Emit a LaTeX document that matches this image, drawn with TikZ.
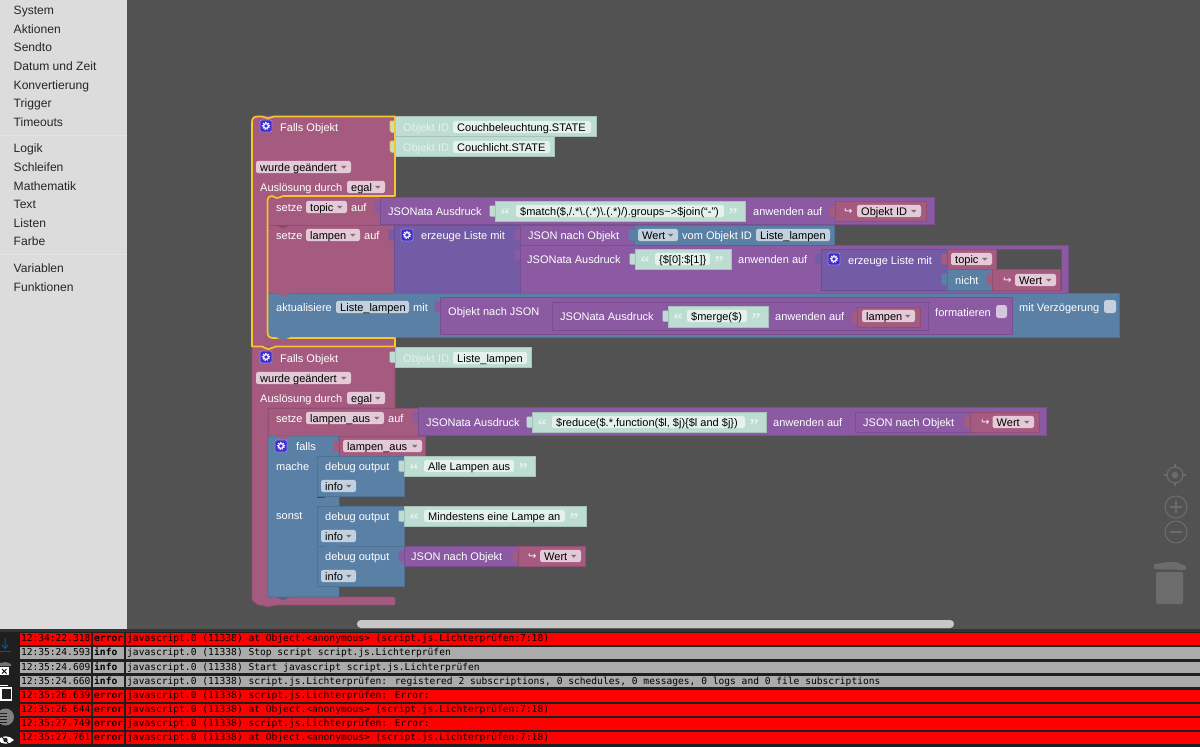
\documentclass[tikz,border=0pt]{standalone}
\usepackage{fontspec}
\setmainfont{Liberation Sans}
\newfontfamily\djv{DejaVu Sans}
\newfontfamily\lgm{DejaVu Sans Mono}
\newfontfamily\qfont{Liberation Serif}
\definecolor{canvas}{HTML}{525252}
\definecolor{side}{HTML}{DCDCDC}
\definecolor{rosec}{HTML}{A55B80}
\definecolor{purpc}{HTML}{8B5AA3}
\definecolor{listc}{HTML}{745BA5}
\definecolor{bluec}{HTML}{5B80A5}
\definecolor{mintc}{HTML}{BEDDD2}
\definecolor{mintf}{HTML}{E4F1EC}
\definecolor{rosef}{HTML}{E4C9D7}
\definecolor{bluef}{HTML}{C3D0DE}
\definecolor{yel}{HTML}{F7C52E}
\definecolor{ctl}{HTML}{6C6C6C}
\definecolor{grayrow}{HTML}{ABABAB}
\definecolor{iconc}{HTML}{402CD0}
\definecolor{iconb}{HTML}{9488DC}
\newcounter{nn}
\tikzset{
  lbl/.style={anchor=mid west,inner sep=0pt,yshift=-1.4pt,text=white,font=\fontsize{11}{13}\selectfont},
  blk/.style={line width=.7pt},
  sideitem/.style={anchor=mid west,inner sep=0pt,yshift=-1.4pt,text=black!85,font=\fontsize{12.1}{14}\selectfont},
  logtxt/.style={anchor=mid west,inner sep=0pt,text=black,font=\lgm\fontsize{9.6}{11}\selectfont},
}
% colour, x1,y1,x2,y2
\newcommand\blk[5]{\filldraw[blk,fill=#1,draw=#1!88!black] (#2,#3) rectangle (#4,#5);}
% colour, x, ytop : left value tab
\newcommand\tabl[3]{\fill[#1,rounded corners=1.2pt] ({#2+1},{#3+4.5}) -- ({#2-5.5},{#3+4.5}) -- ({#2-5.5},{#3+15.5}) -- ({#2+1},{#3+15.5}) -- cycle;}
% colour, x, y : statement bump below an edge
\newcommand\bump[3]{\fill[#1] (#2,#3) .. controls ({#2+3},{#3+.2}) and ({#2+3},{#3+3}) .. ({#2+7},{#3+3}) .. controls ({#2+11},{#3+3}) and ({#2+11},{#3+.2}) .. ({#2+14},#3) -- cycle;}
\newcommand\tx[3]{\stepcounter{nn}\node[lbl] (t\arabic{nn}) at (#1,#2) {#3};}
% fill, x1, x2, yc, text
\newcommand\dd[5]{\stepcounter{nn}\fill[#1,rounded corners=2.5pt] (#2,{#4-6.2}) rectangle (#3,{#4+6.2});
  \node[lbl,text=black] (t\arabic{nn}) at ({#2+4},#4) {#5};
  \fill[#1!55!black] ({#3-10},{#4-1.2}) -- ({#3-4.5},{#4-1.2}) -- ({#3-7.25},{#4+1.6}) -- cycle;}
% fill, x1, x2, yc, text  (no arrow)
\newcommand\fld[5]{\stepcounter{nn}\fill[#1,rounded corners=2.5pt] (#2,{#4-6.2}) rectangle (#3,{#4+6.2});
  \node[lbl,text=black] (t\arabic{nn}) at ({#2+4},#4) {#5};}
\newcommand\icon[2]{\filldraw[fill=iconc,draw=iconb,line width=.7pt,rounded corners=2pt] ({#1-6},{#2-6}) rectangle ({#1+6},{#2+6});
  \draw[white,line width=1.2pt] (#1,#2) circle (2.4pt);
  \draw[white,line width=1pt,dash pattern=on 1.2pt off 1.3pt] (#1,#2) circle (3.6pt);}
\newcommand\qo[2]{\stepcounter{nn}\node[lbl,text=mintf,font=\qfont\bfseries\fontsize{18}{18}\selectfont] (t\arabic{nn}) at ({#1+1.5},{#2+5}) {“};}
\newcommand\qc[2]{\stepcounter{nn}\node[lbl,text=mintf,font=\qfont\bfseries\fontsize{18}{18}\selectfont] (t\arabic{nn}) at ({#1+1.5},{#2+5}) {”};}
\newcommand\arr[2]{\stepcounter{nn}\node[lbl,font=\djv\fontsize{10}{12}\selectfont] (t\arabic{nn}) at (#1,#2) {↪};}
\newcommand\sitem[2]{\stepcounter{nn}\node[sideitem] (t\arabic{nn}) at (13.5,#1) {#2};}
% y, bg, time, level, msg
\newcommand\logrow[5]{\stepcounter{nn}
  \fill[#2] (20,#1) rectangle (91,{#1+11.8});
  \fill[#2] (93,#1) rectangle (124,{#1+11.8});
  \fill[#2] (126,#1) rectangle (1200,{#1+11.8});
  \node[logtxt] (a\arabic{nn}) at (20.8,{#1+5.9}) {#3};
  \node[logtxt,font=\lgm\bfseries\fontsize{9.6}{11}\selectfont] (b\arabic{nn}) at (94,{#1+5.9}) {#4};
  \node[logtxt] (c\arabic{nn}) at (127,{#1+5.9}) {#5};}
\begin{document}
\begin{tikzpicture}[x=1pt,y=-1pt]
\useasboundingbox (0,0) rectangle (1200,747);
\clip (0,0) rectangle (1200,747);
\fill[canvas] (0,0) rectangle (1200,747);
% sidebar
\fill[side] (0,0) rectangle (127,629);
\fill[white!25!side] (0,135) rectangle (127,136);
\fill[white!25!side] (0,254) rectangle (127,255);
\sitem{10.5}{System}\sitem{29}{Aktionen}\sitem{47.5}{Sendto}\sitem{66}{Datum und Zeit}
\sitem{85}{Konvertierung}\sitem{103.5}{Trigger}\sitem{122}{Timeouts}
\sitem{148.5}{Logik}\sitem{167}{Schleifen}\sitem{186}{Mathematik}\sitem{204.5}{Text}
\sitem{223}{Listen}\sitem{241.5}{Farbe}\sitem{268}{Variablen}\sitem{287}{Funktionen}
% workspace controls
\begin{scope}[ctl,line width=1.1pt]
\draw (1175,475) circle (8pt); \fill (1175,475) circle (3.2pt);
\draw (1175,464) -- (1175,467) (1175,483) -- (1175,486) (1164,475) -- (1167,475) (1183,475) -- (1186,475);
\draw (1176,507) circle (11pt); \draw (1176,501) -- (1176,513) (1170,507) -- (1182,507);
\draw (1176,532) circle (11pt); \draw (1170,532) -- (1182,532);
\fill[rounded corners=1pt] (1154,564) -- (1163,563) -- (1167,562) -- (1176,562) -- (1186,566) -- (1186,570) -- (1154,569) -- cycle;
\fill[rounded corners=2pt] (1156,572) rectangle (1183,604);
\end{scope}
\fill[black!22!white,rounded corners=3.8pt] (357,620) rectangle (954,628);

% ===== first trigger =====
\blk{mintc}{395}{116.5}{596}{136.5}
\blk{mintc}{395}{136.5}{554}{156.5}
\filldraw[blk,fill=rosec,draw=rosec!88!black] (252,120) -- (256,116) -- (395,116) -- (395,196) -- (267,196) -- (267,338) -- (395,338) -- (395,347) -- (252,347) -- cycle;
\icon{266}{126}
\tx{280}{127}{Falls Objekt}
\tabl{yel}{395}{116}\tabl{yel}{395}{136}
\tabl{mintc}{396}{117}\tabl{mintc}{396}{137}
\tx{403}{127}{\color{mintf}Objekt ID}
\tx{403}{147}{\color{mintf}Objekt ID}
\fld{mintf}{453}{591}{127}{Couchbeleuchtung.STATE}
\fld{mintf}{453}{550}{147}{Couchlicht.STATE}
\dd{rosef}{256}{351}{167}{wurde geändert}
\tx{260}{187}{Auslösung durch}
\dd{rosef}{347}{385}{187}{egal}

% setze topic
\blk{rosec}{267}{196}{381}{225}
\tx{276}{207}{setze}
\dd{rosef}{306}{347}{207}{topic}
\tx{351}{207}{auf}
\tabl{purpc}{380}{197}
\blk{purpc}{380}{197}{934}{224.5}
\tx{388}{211}{JSONata Ausdruck}
\tabl{mintc}{495}{201}
\blk{mintc}{495}{201}{745}{221}
\qo{499}{211}
\fld{mintf}{516}{724}{211}{\$match(\$,/.*\textbackslash.(.*)\textbackslash.(.*)/).groups\textasciitilde>\$join(“-”)}
\qc{727}{211}
\tx{753}{211}{anwenden auf}
\tabl{rosec}{835}{201}
\blk{rosec}{835}{201}{926}{221}
\arr{844}{210}
\dd{rosef}{857}{921}{211}{Objekt ID}

% setze lampen
\blk{rosec}{267}{225}{394}{293}
\bump{rosec!82!black}{276}{225}
\tx{276}{235}{setze}
\dd{rosef}{306}{360}{235}{lampen}
\tx{364}{235}{auf}
\tabl{listc}{394}{225}
\blk{listc}{394}{225}{520}{293}
\icon{407}{235}
\tx{421}{235}{erzeuge Liste mit}
\tabl{purpc}{520}{225}
\blk{purpc}{520}{225}{634}{245}
\tx{528}{235}{JSON nach Objekt}
\blk{bluec}{634}{225}{834}{245}
\tabl{bluec}{634}{225}
\dd{bluef}{638}{678}{235}{Wert}
\tx{682}{235}{vom Objekt ID}
\fld{bluef}{756}{830}{235}{Liste\_lampen}
\tabl{purpc}{520}{245}
\blk{purpc}{520}{245}{1068}{293}
\tx{527}{259}{JSONata Ausdruck}
\tabl{mintc}{635}{249}
\blk{mintc}{635}{249}{731}{269.5}
\qo{639}{259}
\fld{mintf}{655}{710}{259}{\{\$[0]:\$[1]\}}
\qc{713}{259}
\tx{738}{259}{anwenden auf}
\tabl{listc}{821}{249}
\blk{listc}{821}{249}{947}{290}
\icon{834}{259}
\tx{848}{260}{erzeuge Liste mit}
\fill[canvas] (996,249) rectangle (1061,269);
\draw[purpc!82!black,line width=.7pt] (996,249) -- (1061,249) -- (1061,290);
\tabl{rosec}{947}{249}
\blk{rosec}{947}{249}{996}{269}
\dd{rosef}{951}{992}{259}{topic}
\tabl{bluec}{947}{269}
\blk{bluec}{947}{269}{992}{290}
\tx{955}{280}{nicht}
\tabl{rosec}{992}{269}
\blk{rosec}{992}{269}{1060}{290}
\arr{1003}{279}
\dd{rosef}{1015}{1056}{280}{Wert}

% aktualisiere
\blk{bluec}{267}{293}{1119}{337}
\bump{rosec}{276}{293}
\tx{276}{307}{aktualisiere}
\fld{bluef}{336}{409}{307}{Liste\_lampen}
\tx{413}{307}{mit}
\tabl{purpc}{440}{297}
\blk{purpc}{440}{297}{1012}{334}
\tx{448}{311}{Objekt nach JSON}
\tabl{purpc}{552}{302}
\blk{purpc}{552}{302}{928}{330}
\tx{560}{316}{JSONata Ausdruck}
\tabl{mintc}{668}{306}
\blk{mintc}{668}{306}{768}{327}
\qo{672}{316}
\fld{mintf}{687}{747}{316}{\$merge(\$)}
\qc{750}{316}
\tx{775}{316}{anwenden auf}
\tabl{rosec}{857}{307}
\blk{rosec}{857}{307}{920}{327}
\dd{rosef}{862}{915}{316}{lampen}
\tx{935}{312}{formatieren}
\fill[white!65!purpc,rounded corners=2.5pt] (996,305) rectangle (1007,318);
\tx{1019}{307}{mit Verzögerung}
\fill[bluef,rounded corners=2.5pt] (1104,300) rectangle (1116,313);

% ===== second trigger =====
\filldraw[blk,fill=rosec,draw=rosec!88!black,rounded corners=1pt] (252,347) -- (395,347) -- (395,408) -- (268,408) -- (268,597) -- (395,597) -- (395,605) -- (275,605) -- (268,607) -- (261,605) -- (258,605) -- (252,600) -- cycle;
\icon{266}{357}
\tx{280}{358}{Falls Objekt}
\tabl{mintc}{395}{347}
\blk{mintc}{395}{347.5}{531}{367}
\tx{403}{358}{\color{mintf}Objekt ID}
\fld{mintf}{453}{527}{358}{Liste\_lampen}
\dd{rosef}{256}{351}{378}{wurde geändert}
\tx{260}{398}{Auslösung durch}
\dd{rosef}{347}{385}{398}{egal}
% setze lampen_aus
\blk{rosec}{268}{408}{418}{436}
\tx{276}{418}{setze}
\dd{rosef}{306}{384}{418}{lampen\_aus}
\tx{388}{418}{auf}
\tabl{purpc}{418}{407}
\blk{purpc}{418}{407.5}{1046}{435.5}
\tx{426}{422}{JSONata Ausdruck}
\tabl{mintc}{532}{412}
\blk{mintc}{532}{412}{766}{432}
\qo{536}{422}
\fld{mintf}{552}{745}{422}{\$reduce(\$.*,function(\$l, \$j)\{\$l and \$j\})}
\qc{748}{422}
\tx{773}{422}{anwenden auf}
\tabl{purpc}{855}{412}
\blk{purpc}{855}{412}{970}{432}
\tx{863}{422}{JSON nach Objekt}
\tabl{rosec}{970}{412}
\blk{rosec}{970}{412}{1039}{432}
\arr{981}{421}
\dd{rosef}{992.5}{1034}{422}{Wert}
% falls
\filldraw[blk,fill=bluec,draw=bluec!88!black,rounded corners=2pt] (268,436) -- (339,436) -- (339,597) -- (268,597) -- cycle;
\bump{rosec}{276}{436}
\icon{281}{446}
\tx{296}{446}{falls}
\tabl{rosec}{339}{436}
\blk{rosec}{339}{436}{425}{456}
\dd{rosef}{343}{422}{446}{lampen\_aus}
\tx{276}{466}{mache}
\tx{276}{515}{sonst}
\bump{bluec!82!black}{276}{597}
% debug 1
\fill[canvas!85!black] (317,488) rectangle (339,497.5);
\fill[bluec] (325,497) rectangle (339,506);
\blk{bluec}{317}{456}{404}{496}
\tx{325}{466}{debug output}
\dd{bluef}{321}{356}{486}{info}
\tabl{mintc}{404}{456}
\blk{mintc}{404}{456}{535}{476}
\qo{408}{466}
\fld{mintf}{424}{514}{466}{Alle Lampen aus}
\qc{517}{466}
% debug 2
\blk{bluec}{317}{506}{404}{546}
\tx{325}{516}{debug output}
\dd{bluef}{321}{356}{536}{info}
\tabl{mintc}{404}{506}
\blk{mintc}{404}{506}{586}{526}
\qo{408}{516}
\fld{mintf}{424}{565}{516}{Mindestens eine Lampe an}
\qc{568}{516}
% debug 3
\blk{bluec}{317}{546}{404}{586}
\bump{bluec}{325}{546}
\tx{325}{556}{debug output}
\dd{bluef}{321}{356}{576}{info}
\tabl{purpc}{404}{546}
\blk{purpc}{404}{546}{518}{566}
\tx{411}{556}{JSON nach Objekt}
\tabl{rosec}{518}{546}
\blk{rosec}{518}{546}{585}{566}
\arr{528}{555}
\dd{rosef}{540}{581}{556}{Wert}

% selection outline of first trigger
\draw[yel,line width=1.7pt,line join=round] (252,122) .. controls (252,118) and (254,116.5) .. (258,116.5) -- (262,116.5) .. controls (265,116.5) and (266,118.5) .. (268,118.5) .. controls (270,118.5) and (271,116.5) .. (274,116.5) -- (395,116.5) -- (395,196) -- (283,196) .. controls (281,196) and (280,198) .. (277,198) .. controls (275,198) and (274,196) .. (272,196) .. controls (269,196) and (267.5,197) .. (267.5,200) -- (267.5,333) .. controls (267.5,336) and (269,338) .. (272,338) -- (395,338) -- (395,346.5) -- (276,346.5) .. controls (273,346.5) and (272,349) .. (268,349) .. controls (265,349) and (264,346.5) .. (262,346.5) -- (252,346.5) -- cycle;
\bump{bluec}{276}{337}

% ===== log =====
\fill[black!88] (0,629) rectangle (1200,747);
\fill[black!80] (0,629) rectangle (1200,632);
\logrow{633.3}{red}{12:34:22.318}{error}{javascript.0 (11338) at Object.<anonymous> (script.js.Lichterprüfen:7:18)}
\logrow{647.4}{grayrow}{12:35:24.593}{info}{javascript.0 (11338) Stop script script.js.Lichterprüfen}
\logrow{661.5}{grayrow}{12:35:24.609}{info}{javascript.0 (11338) Start javascript script.js.Lichterprüfen}
\logrow{675.6}{grayrow}{12:35:24.660}{info}{javascript.0 (11338) script.js.Lichterprüfen: registered 2 subscriptions, 0 schedules, 0 messages, 0 logs and 0 file subscriptions}
\logrow{689.7}{red}{12:35:26.639}{error}{javascript.0 (11338) script.js.Lichterprüfen: Error:}
\logrow{703.8}{red}{12:35:26.644}{error}{javascript.0 (11338) at Object.<anonymous> (script.js.Lichterprüfen:7:18)}
\logrow{717.9}{red}{12:35:27.749}{error}{javascript.0 (11338) script.js.Lichterprüfen: Error:}
\logrow{732}{red}{12:35:27.761}{error}{javascript.0 (11338) at Object.<anonymous> (script.js.Lichterprüfen:7:18)}
% log tool icons
\draw[blue!35!cyan!55!black,line width=1pt] (5,638) -- (5,648) (2,645) -- (5,648.5) -- (8,645);
\draw[blue!35!cyan!55!black,line width=1pt] (0,651) -- (11,651);
\fill[black!55] (0,663) -- (6,662) -- (11,664) -- (11,666) -- (0,666) -- cycle;
\fill[white] (0,667) rectangle (9,675);
\draw[black,line width=1pt] (2,669) -- (6.5,673.5) (6.5,669) -- (2,673.5);
\draw[white,line width=.8pt] (0,685.5) -- (8,685.5);
\draw[white,line width=1.1pt] (1,688) rectangle (11.5,700);
\fill[black!50] (5.5,717) circle (8.5pt);
\draw[black!88,line width=.8pt] (-1,713) -- (7,713) (-1,716) -- (7,716) (-1,719) -- (7,719) (-1,722) -- (7,722);
\fill[white] (-2,740) .. controls (2,735) and (9,735) .. (14,740) .. controls (9,745) and (2,745) .. (-2,740) -- cycle;
\fill[black!88] (5.5,740) circle (2.2pt);
\draw[black!88,line width=1pt] (0,735) -- (11,746);
\end{tikzpicture}
\end{document}
